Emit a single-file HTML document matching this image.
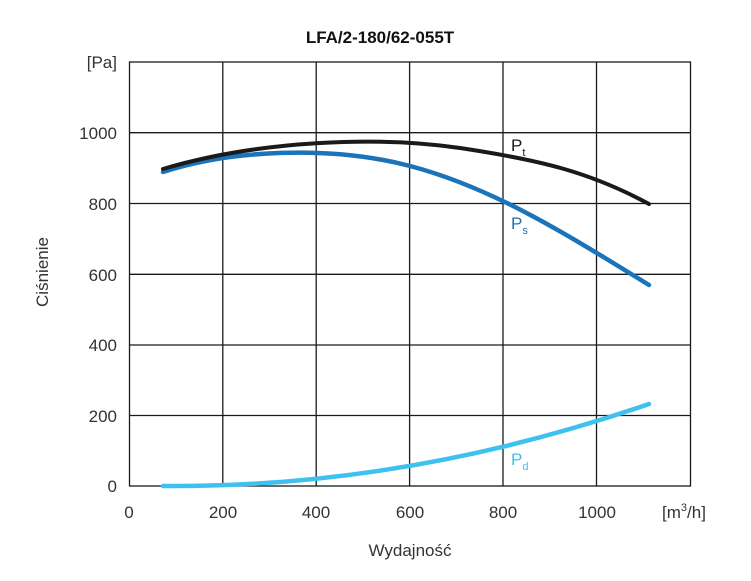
<!DOCTYPE html>
<html><head><style>body{margin:0;background:#fff}</style></head><body>
<svg width="751" height="576" xmlns="http://www.w3.org/2000/svg" font-family="Liberation Sans, sans-serif">
<rect width="751" height="576" fill="#fff"/>
<g stroke="#1a1a1a" stroke-width="1.3" fill="none">
<rect x="129.5" y="62" width="561" height="424"/>
<path d="M222.8 62V486M316.2 62V486M409.6 62V486M503 62V486M596.5 62V486"/>
<path d="M129.5 132.7H690.5M129.5 203.5H690.5M129.5 274.3H690.5M129.5 345H690.5M129.5 415.5H690.5"/>
</g>
<path d="M163 486 Q406 488 649 404" stroke="#3fc1ef" stroke-width="4.5" fill="none" stroke-linecap="round"/>
<path d="M163 172 C230 150 330 145 410 166 S560 230 649 285" stroke="#1b74b9" stroke-width="4.5" fill="none" stroke-linecap="round"/>
<path d="M163 169 C260 140 380 136 460 148 S590 172 649 204" stroke="#1a1a1a" stroke-width="4" fill="none" stroke-linecap="round"/>
<g fill="#333" font-size="17">
<text x="380" y="43" text-anchor="middle" font-size="17" font-weight="bold" fill="#111">LFA/2-180/62-055T</text>
<text x="117" y="68" text-anchor="end">[Pa]</text>
<g text-anchor="end">
<text x="117" y="139">1000</text><text x="117" y="210">800</text><text x="117" y="281">600</text>
<text x="117" y="351">400</text><text x="117" y="422">200</text><text x="117" y="492">0</text>
</g>
<g text-anchor="middle">
<text x="129" y="518">0</text><text x="223" y="518">200</text><text x="316" y="518">400</text>
<text x="410" y="518">600</text><text x="503" y="518">800</text><text x="597" y="518">1000</text>
</g>
<text x="662" y="518">[m<tspan font-size="11" dy="-7">3</tspan><tspan dy="7">/h]</tspan></text>
<text x="410" y="556" text-anchor="middle">Wydajność</text>
<text transform="translate(48,272) rotate(-90)" text-anchor="middle">Ciśnienie</text>
</g>
<text x="511" y="151" font-size="17" fill="#1a1a1a">P<tspan font-size="11" dy="5">t</tspan></text>
<text x="511" y="229" font-size="17" fill="#1b74b9">P<tspan font-size="11" dy="5">s</tspan></text>
<text x="511" y="465" font-size="17" fill="#3fc1ef">P<tspan font-size="11" dy="5">d</tspan></text>
</svg>
</body></html>
